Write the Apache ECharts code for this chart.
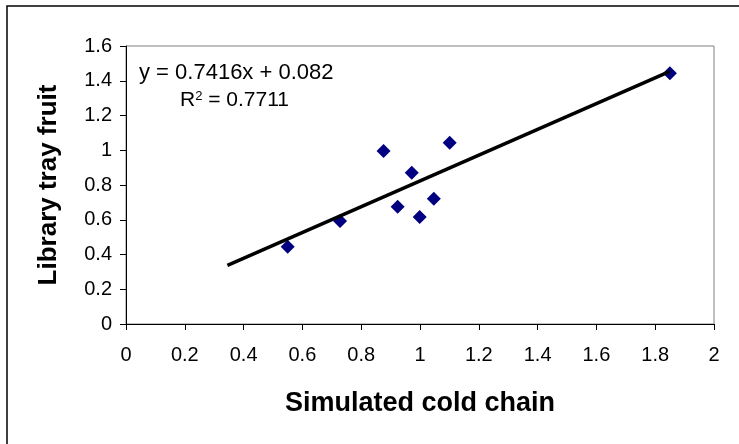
<!DOCTYPE html>
<html>
<head>
<meta charset="utf-8">
<script src="https://cdn.jsdelivr.net/npm/echarts@6/dist/echarts.min.js"></script>
<style>
html,body{margin:0;padding:0;background:#fff;}
#chart{width:739px;height:444px;}
</style>
</head>
<body>
<div id="chart"></div>
<script>
// Data
var coldChain = [0.55, 0.728, 0.876, 0.924, 0.972, 0.999, 1.047, 1.101, 1.85];
var trayFruit = [0.445, 0.593, 0.996, 0.675, 0.871, 0.616, 0.721, 1.043, 1.443];
var trendSlope = 0.7416;
var trendIntercept = 0.082;
var trendStartX = 0.345;
var equationText = 'y = 0.7416x + 0.082';
var r2Value = '0.7711';
var xTitle = 'Simulated cold chain';
var yTitle = 'Library tray fruit';

var points = coldChain.map(function (x, i) { return [x, trayFruit[i]]; });
var trendEndX = Math.max.apply(null, coldChain);
var trendLine = [trendStartX, trendEndX].map(function (x) {
  return [x, trendSlope * x + trendIntercept];
});

var chart = echarts.init(document.getElementById('chart'));
var font = 'Liberation Sans, Arial, sans-serif';
chart.setOption({
  animation: false,
  backgroundColor: '#ffffff',
  grid: {
    left: 126, right: 25, top: 46, bottom: 120,
    show: true, borderColor: '#808080', borderWidth: 1, backgroundColor: 'transparent'
  },
  xAxis: {
    type: 'value', min: 0, max: 2, interval: 0.2,
    name: xTitle, nameLocation: 'middle', nameGap: 66,
    nameTextStyle: { fontFamily: font, fontWeight: 'bold', fontSize: 27, color: '#000' },
    axisLine: { show: true, onZero: false, lineStyle: { color: '#000', width: 1 } },
    axisTick: { show: true, length: 6, lineStyle: { color: '#000' } },
    axisLabel: { fontFamily: font, fontSize: 20, color: '#000', margin: 21,
      formatter: function (v) { return String(Math.round(v * 10) / 10); } },
    splitLine: { show: false }
  },
  yAxis: {
    type: 'value', min: 0, max: 1.6, interval: 0.2,
    name: yTitle, nameLocation: 'middle', nameGap: 64,
    nameTextStyle: { fontFamily: font, fontWeight: 'bold', fontSize: 26, color: '#000' },
    axisLine: { show: true, onZero: false, lineStyle: { color: '#000', width: 1 } },
    axisTick: { show: true, length: 6, lineStyle: { color: '#000' } },
    axisLabel: { fontFamily: font, fontSize: 20, color: '#000', margin: 14,
      formatter: function (v) { return String(Math.round(v * 10) / 10); } },
    splitLine: { show: false }
  },
  series: [
    {
      type: 'scatter', data: points, symbol: 'diamond', symbolSize: 14,
      itemStyle: { color: '#000080', opacity: 1 }, z: 2
    },
    {
      type: 'line', data: trendLine, symbol: 'none', showSymbol: false,
      lineStyle: { color: '#000', width: 3.5 }, z: 3, silent: true
    }
  ],
  graphic: [
    {
      type: 'rect', shape: { x: 7, y: 6, width: 800, height: 500 },
      style: { fill: 'none', stroke: '#000', lineWidth: 1.5 }, silent: true, z: -1
    },
    {
      type: 'text', left: 139, top: 62,
      style: { text: equationText, fontFamily: font, fontSize: 22, fill: '#000' }
    },
    {
      type: 'text', left: 180, top: 90,
      style: {
        text: '{r|R}{s|2}{r| = ' + r2Value + '}',
        fontFamily: font, fill: '#000',
        rich: {
          r: { fontFamily: font, fontSize: 21, fill: '#000', verticalAlign: 'bottom' },
          s: { fontFamily: font, fontSize: 13, fill: '#000', verticalAlign: 'top', padding: [0, 0, 8, 0] }
        }
      }
    }
  ]
});
</script>
</body>
</html>
